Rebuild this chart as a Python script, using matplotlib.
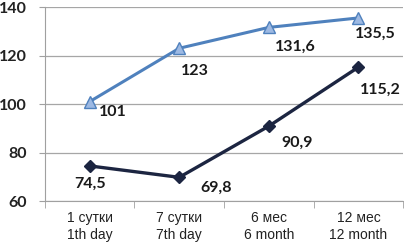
import matplotlib.pyplot as plt

categories = ["1 сутки\n1th day", "7 сутки\n7th day", "6 мес\n6 month", "12 мес\n12 month"]
light_vals = [101, 123, 131.6, 135.5]
dark_vals = [74.5, 69.8, 90.9, 115.2]
light_labels = ["101", "123", "131,6", "135,5"]
dark_labels = ["74,5", "69,8", "90,9", "115,2"]

fig = plt.figure(figsize=(4.04, 2.42), dpi=100)
ax = fig.add_axes([0.111, 0.169, 0.887, 0.802])

x = list(range(len(categories)))
ax.plot(x, light_vals, color="#4F81BD", lw=2.2, marker="^", ms=8,
        markerfacecolor="#9DB9E3", markeredgecolor="#4F81BD", zorder=3)
ax.plot(x, dark_vals, color="#1C2541", lw=2.4, marker="D", ms=6,
        markerfacecolor="#1C2541", markeredgecolor="#1C2541", zorder=3)

bold_font = dict(family=["Lato", "DejaVu Sans"], fontsize=11.5, fontweight="bold", color="#1a1a1a")
light_off = [(23, -10), (16, -23), (27, -19), (17, -16)]
dark_off = [(0, -18), (37, -10), (28, -17), (22, -23)]
for xi, v, t, o in zip(x, light_vals, light_labels, light_off):
    ax.annotate(t, (xi, v), xytext=o, textcoords="offset pixels",
                ha="center", va="center", **bold_font)
for xi, v, t, o in zip(x, dark_vals, dark_labels, dark_off):
    ax.annotate(t, (xi, v), xytext=o, textcoords="offset pixels",
                ha="center", va="center", **bold_font)

ax.set_xlim(-0.5, 3.5)
ax.set_ylim(60, 140)
ax.set_yticks([60, 80, 100, 120, 140])
ax.set_xticks(x)
ax.set_xticklabels(categories, fontsize=10, color="#222222",
                   family=["Liberation Sans", "DejaVu Sans"], linespacing=1.25)
ax.set_xticks([-0.5, 0.5, 1.5, 2.5, 3.5], minor=True)
ax.tick_params(axis="x", which="major", length=0, pad=7)
ax.tick_params(axis="x", which="minor", length=5, color="#A0A0A0")
ax.tick_params(axis="y", length=4, color="#A0A0A0", pad=9)
for lab in ax.get_yticklabels():
    lab.set_fontweight("bold")
    lab.set_fontsize(11.5)
    lab.set_family(["Lato", "DejaVu Sans"])
    lab.set_color("#222222")

ax.grid(axis="y", color="#A6A6A6", lw=0.9)
ax.set_axisbelow(True)
for s in ["top", "right"]:
    ax.spines[s].set_visible(False)
ax.spines["left"].set_color("#A0A0A0")
ax.spines["bottom"].set_color("#A0A0A0")

fig.savefig("out.png", dpi=100)
